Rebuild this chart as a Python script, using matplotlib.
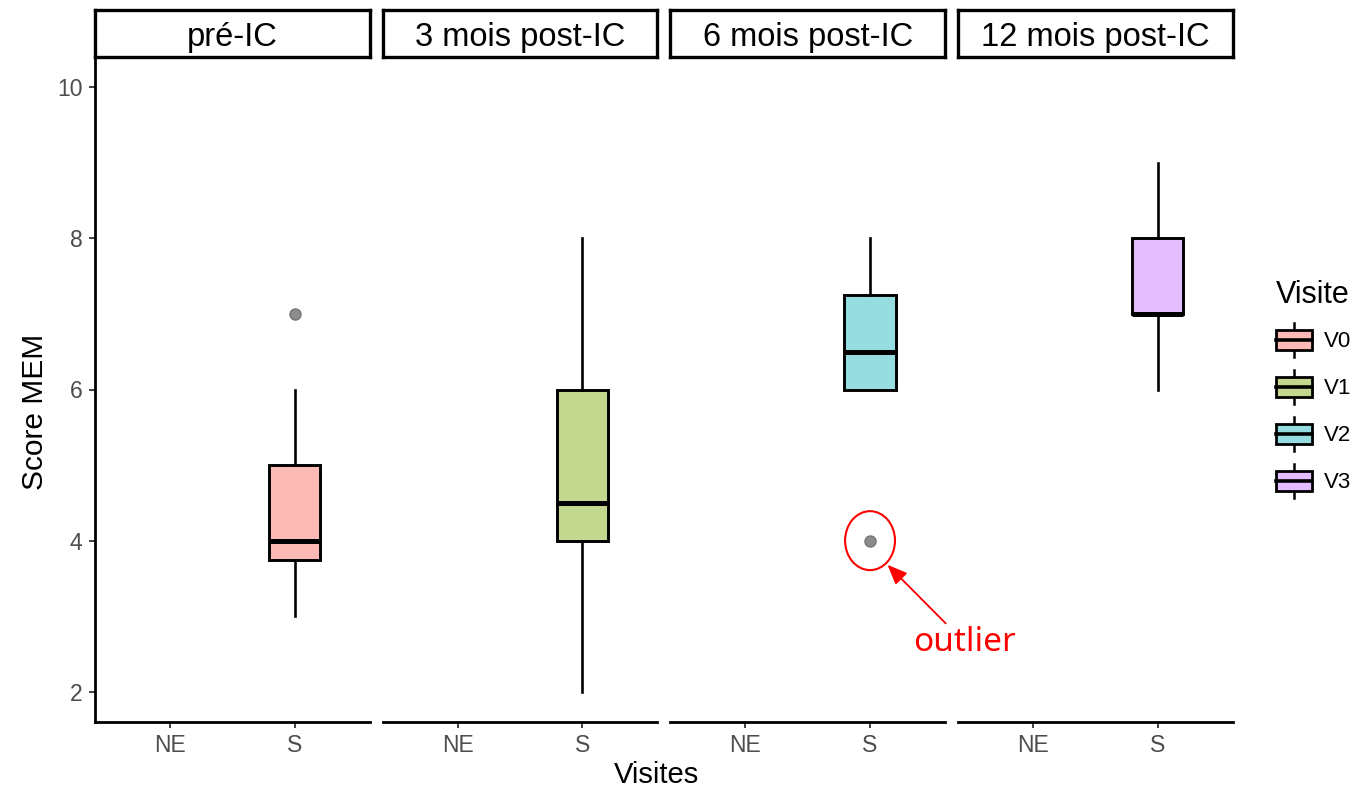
import matplotlib
matplotlib.use("Agg")
import matplotlib.pyplot as plt
from matplotlib.patches import Patch, Rectangle, Ellipse
from matplotlib.lines import Line2D
from matplotlib.legend_handler import HandlerBase

plt.rcParams['font.family'] = ['Liberation Sans', 'DejaVu Sans']

# Data
panels = ['pré-IC', '3 mois post-IC', '6 mois post-IC', '12 mois post-IC']
groups = ['NE', 'S']
visits = ['V0', 'V1', 'V2', 'V3']
colors = ['#FBBAB6', '#C3D78F', '#95DDE1', '#E3BDFF']
whislo = [3, 2, 6, 6]
q1 = [3.75, 4, 6, 7]
med = [4, 4.5, 6.5, 7]
q3 = [5, 6, 7.25, 8]
whishi = [6, 8, 8, 9]
fliers = [[7], [], [4], []]
yticks = [2, 4, 6, 8, 10]

W, H = 1365, 791
fig = plt.figure(figsize=(W / 100, H / 100), dpi=100)

# panel geometry in pixels
panel_w = 274.5
panel_step = 287.7
panel_left0 = 95
panel_top, panel_bot = 57, 722
strip_top = 10


class BoxHandler(HandlerBase):
    # legend key that looks like a small boxplot
    def create_artists(self, legend, orig_handle, xdescent, ydescent,
                       width, height, fontsize, trans):
        x0, y0 = -xdescent, -ydescent
        cx = x0 + width / 2
        bh = height * 0.6
        by = y0 + (height - bh) / 2
        rect = Rectangle((x0, by), width, bh, facecolor=orig_handle.get_facecolor(),
                         edgecolor='black', lw=2.0, transform=trans)
        lo = Line2D([cx, cx], [y0, by], color='black', lw=1.8, transform=trans)
        hi = Line2D([cx, cx], [by + bh, y0 + height], color='black', lw=1.8, transform=trans)
        md = Line2D([x0, x0 + width], [by + bh / 2] * 2, color='black', lw=2.6, transform=trans)
        return [lo, hi, rect, md]


axes = []
for i, name in enumerate(panels):
    left = panel_left0 + i * panel_step
    ax = fig.add_axes([left / W, (H - panel_bot) / H, panel_w / W,
                       (panel_bot - panel_top) / H])
    ax.patch.set_alpha(0)
    axes.append(ax)

    stats = [dict(whislo=whislo[i], q1=q1[i], med=med[i], q3=q3[i],
                  whishi=whishi[i], fliers=fliers[i])]
    ax.bxp(stats, positions=[2], widths=0.41, patch_artist=True, showcaps=False,
           boxprops=dict(facecolor=colors[i], edgecolor='black', linewidth=2.1),
           whiskerprops=dict(color='black', linewidth=1.9),
           medianprops=dict(color='black', linewidth=3.6, solid_capstyle='butt'),
           flierprops=dict(marker='o', markerfacecolor='#808080',
                           markeredgecolor='#6E6E6E', markersize=8, alpha=0.9))

    ax.set_xlim(0.4, 2.6)
    ax.set_ylim(1.6, 10.4)
    ax.set_xticks([1, 2])
    ax.set_xticklabels(groups)
    ax.set_yticks(yticks)
    for s in ['top', 'right']:
        ax.spines[s].set_visible(False)
    ax.spines['bottom'].set_linewidth(2.0)
    ax.spines['left'].set_linewidth(2.0)
    ax.tick_params(axis='both', length=4, width=1.3, color='#333333',
                   labelsize=16.5, labelcolor='#4D4D4D', pad=5)
    if i > 0:
        ax.spines['left'].set_visible(False)
        ax.tick_params(axis='y', left=False, labelleft=False)

    # facet strip
    sax = fig.add_axes([left / W, (H - panel_top) / H, panel_w / W,
                        (panel_top - strip_top) / H])
    sax.set_xticks([])
    sax.set_yticks([])
    for s in sax.spines.values():
        s.set_linewidth(2.4)
    sax.text(0.5, 0.41, name, ha='center', va='center', fontsize=23.5,
             transform=sax.transAxes)

# axis titles
fig.text(35 / W, (H - 412) / H, 'Score MEM', rotation=90, ha='center',
         va='center', fontsize=21.5)
fig.text(657 / W, (H - 775) / H, 'Visites', ha='center', va='center', fontsize=21)

# outlier annotation in the 6-month panel
ax3 = axes[2]
ax3.set_zorder(5)
ax3.add_patch(Ellipse((2, 4), 0.40, 0.78, fill=False, edgecolor='red',
                      lw=1.5, clip_on=False))
ax3.annotate('outlier', xy=(2.14, 3.68), xytext=(2.76, 2.65), color='red',
             fontsize=24, family=['Noto Sans', 'DejaVu Sans'], ha='center',
             va='center', annotation_clip=False,
             arrowprops=dict(arrowstyle='-|>,head_length=0.6,head_width=0.25',
                             color='red', lw=1.3, mutation_scale=20, shrinkA=0,
                             shrinkB=0))

# legend
handles = [Patch(facecolor=c, edgecolor='black') for c in colors]
leg = fig.legend(handles, visits, title='Visite', loc='center left',
                 bbox_to_anchor=(1276 / W, (H - 389) / H), frameon=False,
                 fontsize=16, title_fontsize=22, borderpad=0, borderaxespad=0,
                 handlelength=1.62, handleheight=1.95, labelspacing=0.6,
                 handletextpad=0.55, alignment='left',
                 handler_map={Patch: BoxHandler()})

fig.savefig('out.png', dpi=100)
